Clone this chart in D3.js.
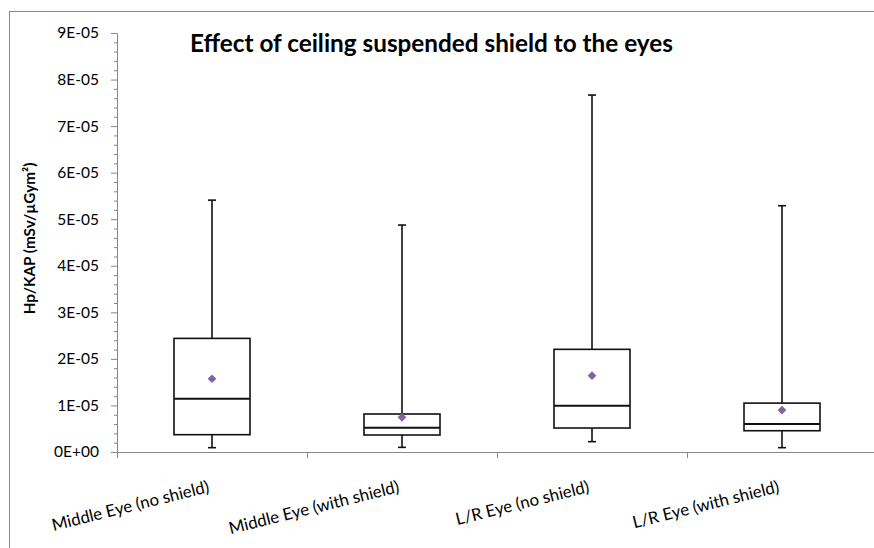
<!DOCTYPE html>
<html>
<head>
<meta charset="utf-8">
<script src="https://cdn.jsdelivr.net/npm/d3@7"></script>
<style>
  html, body { margin: 0; padding: 0; background: #fff; }
  svg { display: block; }
  text { font-family: Lato, "Open Sans", sans-serif; fill: #000; }
</style>
</head>
<body>
<svg id="chart" width="874" height="548"></svg>
<script>
// Hp/KAP distributions for the eye dosimeters, with and without the ceiling shield
const categories = [
  "Middle Eye (no shield)",
  "Middle Eye (with shield)",
  "L/R Eye (no shield)",
  "L/R Eye (with shield)"
];
const minValues    = [0.93e-6, 1.00e-6, 2.22e-6, 0.93e-6];
const q1Values     = [3.72e-6, 3.65e-6, 5.15e-6, 4.57e-6];
const medianValues = [11.45e-6, 5.22e-6, 9.95e-6, 6.00e-6];
const q3Values     = [24.4e-6, 8.16e-6, 22.05e-6, 10.5e-6];
const maxValues    = [54.1e-6, 48.75e-6, 76.67e-6, 52.9e-6];
const meanValues   = [15.74e-6, 7.45e-6, 16.4e-6, 9.0e-6];
const yTickValues  = [0, 1e-5, 2e-5, 3e-5, 4e-5, 5e-5, 6e-5, 7e-5, 8e-5, 9e-5];

const title = "Effect of ceiling suspended shield to the eyes";
const yTitle = "Hp/KAP (mSv/µGym²)";

const svg = d3.select("#chart");

// chart frame
svg.append("rect")
  .attr("x", 9.5).attr("y", 11.5)
  .attr("width", 900).attr("height", 600)
  .attr("fill", "#fff").attr("stroke", "#868686").attr("stroke-width", 1);

const plot = { left: 117, right: 877, top: 33, bottom: 452 };

const x = d3.scaleBand().domain(categories).range([plot.left, plot.right]).padding(0);
const y = d3.scaleLinear().domain([0, 9e-5]).range([plot.bottom, plot.top]);

// scientific notation like 9E-05 / 0E+00
function sci(d) {
  if (d === 0) return "0E+00";
  const e = Math.floor(Math.log10(d) + 1e-9);
  const m = Math.round(d / Math.pow(10, e));
  return m + "E" + (e < 0 ? "-" : "+") + String(Math.abs(e)).padStart(2, "0");
}

// minor ticks every 2E-06
const minorTicks = d3.range(0, 46).map(i => i * 2e-6).filter((v, i) => i % 5 !== 0);
svg.append("g")
  .attr("transform", `translate(${plot.left},0)`)
  .call(d3.axisLeft(y).tickValues(minorTicks).tickSize(3).tickFormat(""))
  .call(g => g.select(".domain").remove())
  .call(g => g.selectAll("line").attr("stroke", "#868686"));

const yAxis = svg.append("g")
  .attr("transform", `translate(${plot.left},0)`)
  .call(d3.axisLeft(y).tickValues(yTickValues).tickSize(6).tickSizeOuter(0).tickPadding(12).tickFormat(sci));
yAxis.select(".domain").attr("stroke", "#868686");
yAxis.selectAll("line").attr("stroke", "#868686");
yAxis.selectAll("text").attr("font-size", 15.5).attr("fill", "#000")
  .style("font-family", "Lato, 'Open Sans', sans-serif");

// category axis with ticks between groups
const xEdges = d3.scaleLinear().domain([0, categories.length]).range([plot.left, plot.right]);
const xAxis = svg.append("g")
  .attr("transform", `translate(0,${plot.bottom})`)
  .call(d3.axisBottom(xEdges).tickValues(d3.range(0, categories.length + 1)).tickSize(6).tickSizeOuter(0).tickFormat(""));
xAxis.select(".domain").attr("stroke", "#868686");
xAxis.selectAll("line").attr("stroke", "#868686");

// slanted category labels
svg.append("g").selectAll("text")
  .data(categories)
  .join("text")
  .attr("transform", d => `translate(${x(d) + x.bandwidth() / 2 - 2},492) rotate(-14)`)
  .attr("text-anchor", "end")
  .attr("font-size", 16.8)
  .text(d => d);

// box plots
const boxW = x.bandwidth() * 0.4;
const capW = 8;
const stroke = "#111";
const groups = svg.append("g").selectAll("g")
  .data(categories.map((c, i) => ({
    c, min: minValues[i], q1: q1Values[i], med: medianValues[i],
    q3: q3Values[i], max: maxValues[i], mean: meanValues[i]
  })))
  .join("g")
  .attr("transform", d => `translate(${Math.round(x(d.c) + x.bandwidth() / 2)},0)`);

groups.append("line") // upper whisker
  .attr("x1", 0).attr("x2", 0)
  .attr("y1", d => y(d.q3)).attr("y2", d => y(d.max))
  .attr("stroke", stroke).attr("stroke-width", 1.6);
groups.append("line") // lower whisker
  .attr("x1", 0).attr("x2", 0)
  .attr("y1", d => y(d.q1)).attr("y2", d => y(d.min))
  .attr("stroke", stroke).attr("stroke-width", 1.6);
groups.append("line")
  .attr("x1", -capW / 2).attr("x2", capW / 2)
  .attr("y1", d => y(d.max)).attr("y2", d => y(d.max))
  .attr("stroke", stroke).attr("stroke-width", 1.6);
groups.append("line")
  .attr("x1", -capW / 2).attr("x2", capW / 2)
  .attr("y1", d => y(d.min)).attr("y2", d => y(d.min))
  .attr("stroke", stroke).attr("stroke-width", 1.6);
groups.append("rect")
  .attr("x", -boxW / 2).attr("width", boxW)
  .attr("y", d => y(d.q3)).attr("height", d => y(d.q1) - y(d.q3))
  .attr("fill", "#fff").attr("stroke", stroke).attr("stroke-width", 1.6);
groups.append("line") // median
  .attr("x1", -boxW / 2).attr("x2", boxW / 2)
  .attr("y1", d => y(d.med)).attr("y2", d => y(d.med))
  .attr("stroke", stroke).attr("stroke-width", 2);
groups.append("path") // mean marker
  .attr("d", d3.symbol(d3.symbolDiamond2, 48)())
  .attr("transform", d => `translate(0,${y(d.mean)})`)
  .attr("fill", "#8064A2");

// titles
svg.append("text")
  .attr("x", 190).attr("y", 52)
  .attr("font-size", 24.3).attr("font-weight", "bold")
  .text(title);

svg.append("text")
  .attr("transform", `translate(35,${(plot.top + plot.bottom) / 2 - 4}) rotate(-90)`)
  .attr("text-anchor", "middle")
  .attr("font-size", 15.3).attr("font-weight", "bold")
  .text(yTitle);
</script>
</body>
</html>
